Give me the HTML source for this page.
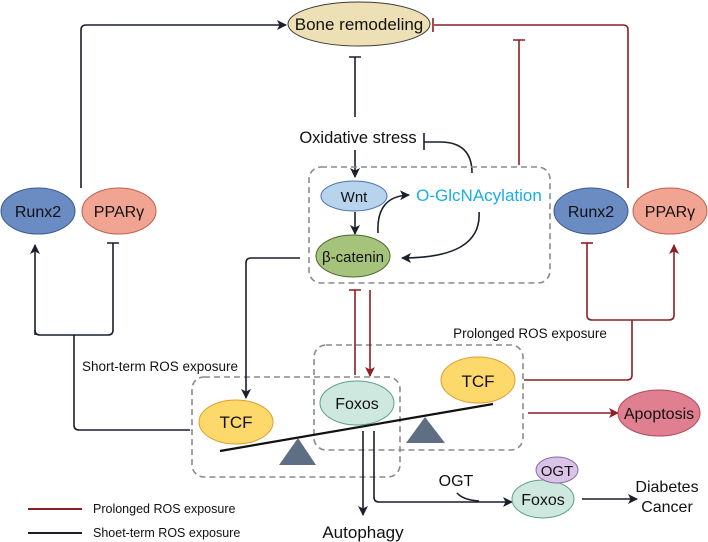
<!DOCTYPE html>
<html><head><meta charset="utf-8"><style>
html,body{margin:0;padding:0;background:#fff;}
svg{display:block;font-family:"Liberation Sans",Arial,sans-serif;}
</style></head><body>
<svg width="708" height="542" viewBox="0 0 708 542" xmlns="http://www.w3.org/2000/svg">
<defs>
<marker id="ab" markerWidth="10" markerHeight="10" refX="9" refY="5" orient="auto" markerUnits="userSpaceOnUse"><path d="M0,0 L10,5 L0,10 L2.5,5 Z" fill="#1a1f2b"/></marker>
<marker id="ar" markerWidth="10" markerHeight="10" refX="9" refY="5" orient="auto" markerUnits="userSpaceOnUse"><path d="M0,0 L10,5 L0,10 L2.5,5 Z" fill="#8b1f24"/></marker>
</defs>
<g fill="none" stroke-width="1.6">
<path d="M81,188 V30 Q81,25 86,25 H286" stroke="#1a1f2b" marker-end="url(#ab)"/>
<path d="M434,25 H623 Q628,25 628,30 V188" stroke="#8b1f24"/>
<path d="M433,18 V32" stroke="#8b1f24"/>
<path d="M519,165 V40 M513,40 H525" stroke="#8b1f24"/>
<path d="M355,117 V57 M349,57 H361" stroke="#1a1f2b"/>
<path d="M355,150 V177" stroke="#1a1f2b" marker-end="url(#ab)"/>
<path d="M424,133 V150 M424,142 H440 Q472,142 472,173" stroke="#1a1f2b"/>
<path d="M479,212 Q482,258 402,258" stroke="#1a1f2b" marker-end="url(#ab)"/>
<path d="M378,233 Q376,196 409,195" stroke="#1a1f2b" marker-end="url(#ab)"/>
<path d="M355,212 V234" stroke="#1a1f2b" marker-end="url(#ab)"/>
<rect x="309" y="167" width="241" height="116" rx="12" stroke="#8a8a8a" stroke-dasharray="6,4"/>
<rect x="192" y="377" width="208" height="100" rx="12" stroke="#8a8a8a" stroke-dasharray="6,4"/>
<rect x="314" y="345" width="209" height="105" rx="12" stroke="#8a8a8a" stroke-dasharray="6,4"/>
<path d="M300,258 H251 Q246,258 246,263 V398" stroke="#1a1f2b" marker-end="url(#ab)"/>
<path d="M35,335 V245" stroke="#1a1f2b" marker-end="url(#ab)"/>
<path d="M35,330 Q35,335 40,335 H108 Q113,335 113,330 V243 M107,243 H119" stroke="#1a1f2b"/>
<path d="M74,335 V425 Q74,430 79,430 H190" stroke="#1a1f2b"/>
<path d="M587,243 V315 Q587,320 592,320 H669 Q674,320 674,315 V245" stroke="#8b1f24" marker-end="url(#ar)"/>
<path d="M581,243 H593" stroke="#8b1f24"/>
<path d="M632,320 V375 Q632,380 627,380 H524" stroke="#8b1f24"/>
<path d="M355,375 V290 M349,290 H361" stroke="#8b1f24"/>
<path d="M370,290 V376" stroke="#8b1f24" marker-end="url(#ar)"/>
<path d="M528,413 H618" stroke="#8b1f24" marker-end="url(#ar)"/>
<path d="M363,431 V515" stroke="#1a1f2b" marker-end="url(#ab)"/>
<path d="M374,431 V497 Q374,502 379,502 H512" stroke="#1a1f2b" marker-end="url(#ab)"/>
<path d="M457,493 Q463,500 479,501" stroke="#1a1f2b"/>
<path d="M582,499 H637" stroke="#1a1f2b" marker-end="url(#ab)"/>
<path d="M28,509 H82" stroke="#8b1f24" stroke-width="2"/>
<path d="M28,533 H82" stroke="#1a1f2b" stroke-width="2"/>
</g>
<g stroke-width="1">
<ellipse cx="359" cy="24" rx="71" ry="22" fill="#eee0b5" stroke="#3a3a3a"/>
<ellipse cx="354" cy="196" rx="33" ry="15" fill="#b8d3ec" stroke="#4a72b0"/>
<ellipse cx="353" cy="256" rx="37" ry="21" fill="#a6c37b" stroke="#4d6b2a"/>
<ellipse cx="38" cy="211" rx="37" ry="23" fill="#6b8bc3" stroke="#3a5a90"/>
<ellipse cx="119" cy="211" rx="37" ry="23" fill="#f2a493" stroke="#c06050"/>
<ellipse cx="591" cy="211" rx="37" ry="23" fill="#6b8bc3" stroke="#3a5a90"/>
<ellipse cx="670" cy="211" rx="37" ry="23" fill="#f2a493" stroke="#c06050"/>
<ellipse cx="236" cy="422" rx="37" ry="22" fill="#fdd86b" stroke="#e0a030"/>
<ellipse cx="357" cy="403" rx="37" ry="22" fill="#cfe8df" stroke="#5aa08a"/>
<ellipse cx="478" cy="380" rx="37" ry="23" fill="#fdd86b" stroke="#e0a030"/>
<ellipse cx="659" cy="413" rx="41" ry="23" fill="#e07f90" stroke="#b04a5a"/>
<ellipse cx="543" cy="499" rx="31" ry="19" fill="#cfe8df" stroke="#5aa08a"/>
<ellipse cx="557" cy="470" rx="21" ry="13" fill="#d9c3e6" stroke="#8a6aa0"/>
</g>
<path d="M220,451 L493,404" stroke="#111" stroke-width="2.2"/>
<polygon points="298,438 279,465 316,465" fill="#5e6e83"/>
<polygon points="425,417 406,443 445,443" fill="#5e6e83"/>
<g fill="#111" text-anchor="middle" font-size="16">
<text x="359" y="30" font-size="17">Bone remodeling</text>
<text x="358" y="143" font-size="16.5">Oxidative stress</text>
<text x="354" y="202" font-size="15">Wnt</text>
<text x="353" y="262" font-size="15">β-catenin</text>
<text x="479" y="201" font-size="17" fill="#18aee6">O-GlcNAcylation</text>
<text x="38" y="217">Runx2</text>
<text x="119" y="217">PPARγ</text>
<text x="591" y="217">Runx2</text>
<text x="670" y="217">PPARγ</text>
<text x="236" y="428" font-size="17">TCF</text>
<text x="357" y="409">Foxos</text>
<text x="478" y="387" font-size="17">TCF</text>
<text x="659" y="419">Apoptosis</text>
<text x="543" y="505">Foxos</text>
<text x="557" y="476" font-size="15">OGT</text>
<text x="456" y="486">OGT</text>
<text x="363" y="538" font-size="17">Autophagy</text>
<text x="667" y="492">Diabetes</text>
<text x="667" y="512">Cancer</text>
<text x="160" y="371" font-size="13.5">Short-term ROS exposure</text>
<text x="530" y="338" font-size="13.5">Prolonged ROS exposure</text>
<text x="93" y="513" font-size="12.5" text-anchor="start">Prolonged ROS exposure</text>
<text x="93" y="537" font-size="12.5" text-anchor="start">Shoet-term ROS exposure</text>
</g>
</svg>
</body></html>
